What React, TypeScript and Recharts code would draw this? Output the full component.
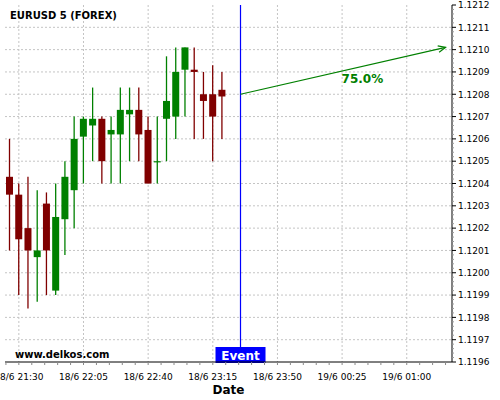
import { Bar, CartesianGrid, ComposedChart, ReferenceDot, ReferenceLine, XAxis, YAxis } from "recharts";

// 5-minute EURUSD candles, 18/6
const times = [
  "18/6 21:25", "18/6 21:30", "18/6 21:35", "18/6 21:40", "18/6 21:45", "18/6 21:50",
  "18/6 21:55", "18/6 22:00", "18/6 22:05", "18/6 22:10", "18/6 22:15", "18/6 22:20",
  "18/6 22:25", "18/6 22:30", "18/6 22:35", "18/6 22:40", "18/6 22:45", "18/6 22:50",
  "18/6 22:55", "18/6 23:00", "18/6 23:05", "18/6 23:10", "18/6 23:15", "18/6 23:20",
];
const opens = [
  1.12043, 1.12035, 1.1202, 1.12007, 1.12031, 1.11992, 1.12024, 1.12037, 1.12061, 1.12066, 1.12069, 1.12062,
  1.12062, 1.12071, 1.12073, 1.12064, 1.1205, 1.12069, 1.1207, 1.12091, 1.12091, 1.1208, 1.1208, 1.12082,
];
const highs = [
  1.1206, 1.1204, 1.12043, 1.12037, 1.12036, 1.1204, 1.1205, 1.1207, 1.1207, 1.12083, 1.1207, 1.1207,
  1.12083, 1.12083, 1.12083, 1.1207, 1.1207, 1.12097, 1.12101, 1.12101, 1.12101, 1.1209, 1.12093, 1.1209,
];
const lows = [
  1.1201, 1.1199, 1.11984, 1.11987, 1.1199, 1.1199, 1.12008, 1.1202, 1.1204, 1.1205, 1.1204, 1.1204,
  1.1204, 1.1205, 1.1205, 1.1204, 1.1204, 1.1205, 1.1206, 1.1207, 1.1206, 1.1206, 1.1205, 1.1206,
];
const closes = [
  1.12035, 1.12015, 1.1201, 1.1201, 1.1201, 1.12025, 1.12043, 1.1206, 1.12069, 1.12069, 1.1205, 1.12064,
  1.12073, 1.12073, 1.12062, 1.1204, 1.1205, 1.12077, 1.1209, 1.12101, 1.1209, 1.12077, 1.1207, 1.12079,
];

const xTickLabels = ["18/6 21:30", "18/6 22:05", "18/6 22:40", "18/6 23:15", "18/6 23:50", "19/6 00:25", "19/6 01:00"];
const priceTicks = [
  1.1196, 1.1197, 1.1198, 1.1199, 1.12, 1.1201, 1.1202, 1.1203, 1.1204,
  1.1205, 1.1206, 1.1207, 1.1208, 1.1209, 1.121, 1.1211, 1.1212,
];

const eventTime = "18/6 23:30";
const arrowFrom = { time: "18/6 23:30", price: 1.1208 };
const arrowTo = { time: "19/6 01:21", price: 1.12101 };
const probabilityLabel = { time: "19/6 00:36", price: 1.12087, text: "75.0%" };

const UP = "#008000";
const DOWN = "#800000";
const FONT = "DejaVu Sans";

// minutes since 18/6 00:00
const toMin = (s: string) => {
  const [d, hm] = s.split(" ");
  const day = Number(d.split("/")[0]);
  const [h, m] = hm.split(":").map(Number);
  return (day - 18) * 1440 + h * 60 + m;
};

const data = times.map((t, i) => ({
  t: toMin(t),
  open: opens[i],
  high: highs[i],
  low: lows[i],
  close: closes[i],
  range: [lows[i], highs[i]],
}));

const xDomain = [toMin("18/6 21:25") - 2.5, toMin("19/6 01:24") + 0.5];
const majorX = xTickLabels.map(toMin);
const labelAt = new Map(majorX.map((m, i) => [m, xTickLabels[i]]));
const minorX: number[] = [];
for (let m = majorX[0] - 7; m <= xDomain[1]; m += 7) minorX.push(m);

const yMinor: number[] = [];
for (let k = 0; k <= (priceTicks.length - 1) * 5; k++) yMinor.push(Math.round((priceTicks[0] + k * 0.00002) * 1e5) / 1e5);
const isMajorY = (v: number) => priceTicks.some((p) => Math.abs(p - v) < 1e-7);

function Candle(props: any) {
  const { x, y, width, height, payload } = props;
  const top = Math.min(y, y + height);
  const h = Math.abs(height);
  const py = (v: number) => top + ((payload.high - v) / (payload.high - payload.low)) * h;
  const color = payload.close >= payload.open ? UP : DOWN;
  const cx = x + width / 2;
  const bTop = py(Math.max(payload.open, payload.close));
  const bBot = py(Math.min(payload.open, payload.close));
  return (
    <g>
      <line x1={cx} x2={cx} y1={top} y2={top + h} stroke={color} strokeWidth={1.3} />
      <rect x={x} y={bTop} width={width} height={Math.max(1.2, bBot - bTop)} fill={color} />
    </g>
  );
}

function XTick({ x, y, payload }: any) {
  const label = labelAt.get(payload.value);
  return (
    <g>
      <line x1={x} x2={x} y1={y} y2={y + 3} stroke="#888" />
      {label && (
        <text x={x} y={y + 17.5} textAnchor="middle" fontSize={9} fontFamily={FONT} fill="#000">
          {label}
        </text>
      )}
    </g>
  );
}

function YTick({ x, y, payload }: any) {
  const major = isMajorY(payload.value);
  return (
    <g>
      <line x1={x} x2={x + (major ? 4 : 2)} y1={y} y2={y} stroke={major ? "#000" : "#999"} />
      {major && (
        <text x={x + 6} y={y + 3.3} fontSize={9} fontFamily={FONT} fill="#000">
          {payload.value.toFixed(4)}
        </text>
      )}
    </g>
  );
}

function EventTag({ viewBox }: any) {
  const { x, y, height } = viewBox;
  const bottom = y + height;
  return (
    <g>
      <rect x={x - 25} y={bottom - 15} width={50} height={16} fill="#0000ff" />
      <text x={x} y={bottom - 2.5} textAnchor="middle" fill="#fff" fontWeight="bold" fontSize={12} fontFamily={FONT}>
        Event
      </text>
    </g>
  );
}

function Arrow({ x1, y1, x2, y2 }: any) {
  const a = Math.atan2(y2 - y1, x2 - x1);
  const len = 8;
  const spread = 0.42;
  const p1 = [x2 - len * Math.cos(a - spread), y2 - len * Math.sin(a - spread)];
  const p2 = [x2 - len * Math.cos(a + spread), y2 - len * Math.sin(a + spread)];
  return (
    <g stroke={UP} strokeWidth={1.2} fill="none">
      <line x1={x1} y1={y1} x2={x2} y2={y2} />
      <polyline points={`${p1[0]},${p1[1]} ${x2},${y2} ${p2[0]},${p2[1]}`} />
    </g>
  );
}

function ProbLabel({ viewBox }: any) {
  const cx = viewBox.x + viewBox.width / 2;
  const cy = viewBox.y + viewBox.height / 2;
  return (
    <text x={cx} y={cy + 4.5} textAnchor="middle" fill={UP} fontWeight="bold" fontSize={12} fontFamily={FONT}>
      {probabilityLabel.text}
    </text>
  );
}

export default function App() {
  return (
    <div style={{ position: "absolute", left: 0, top: 0, width: 500, height: 400, background: "#fff", fontFamily: FONT }}>
      <ComposedChart width={500} height={400} data={data} margin={{ top: 5, right: 0, bottom: 0, left: 5 }}>
        <CartesianGrid
          stroke="#c4c4c4"
          strokeDasharray="2 2"
          horizontalValues={priceTicks.slice(1, -1)}
          verticalValues={majorX}
        />
        <XAxis
          dataKey="t"
          type="number"
          domain={xDomain}
          allowDataOverflow
          ticks={minorX}
          interval={0}
          tick={<XTick />}
          tickSize={0}
          tickMargin={0}
          tickLine={false}
          axisLine={{ stroke: "#000" }}
          height={38}
          label={{ value: "Date", position: "insideBottom", offset: 6, fontWeight: "bold", fontSize: 12, fill: "#000", fontFamily: FONT }}
        />
        <YAxis
          orientation="right"
          type="number"
          domain={[priceTicks[0], priceTicks[priceTicks.length - 1]]}
          allowDataOverflow
          ticks={yMinor}
          interval={0}
          tick={<YTick />}
          tickSize={0}
          tickMargin={0}
          tickLine={false}
          axisLine={{ stroke: "#000" }}
          width={48}
        />
        <Bar dataKey="range" barSize={7} shape={<Candle />} isAnimationActive={false} />
        <ReferenceLine x={toMin(eventTime)} stroke="#0000ff" strokeWidth={1.2} label={EventTag} />
        <ReferenceLine
          segment={[
            { x: toMin(arrowFrom.time), y: arrowFrom.price },
            { x: toMin(arrowTo.time), y: arrowTo.price },
          ]}
          shape={Arrow}
        />
        <ReferenceDot
          x={toMin(probabilityLabel.time)}
          y={probabilityLabel.price}
          r={1}
          fill="none"
          stroke="none"
          label={ProbLabel}
        />
      </ComposedChart>
      <svg width={500} height={400} style={{ position: "absolute", left: 0, top: 0, pointerEvents: "none" }}>
        <text x={10} y={19.3} fontSize={10} fontWeight="bold" fontFamily={FONT} fill="#000">
          EURUSD 5 (FOREX)
        </text>
        <text x={15} y={357.5} fontSize={10} fontWeight="bold" fontFamily={FONT} fill="#000">
          www.delkos.com
        </text>
      </svg>
    </div>
  );
}
